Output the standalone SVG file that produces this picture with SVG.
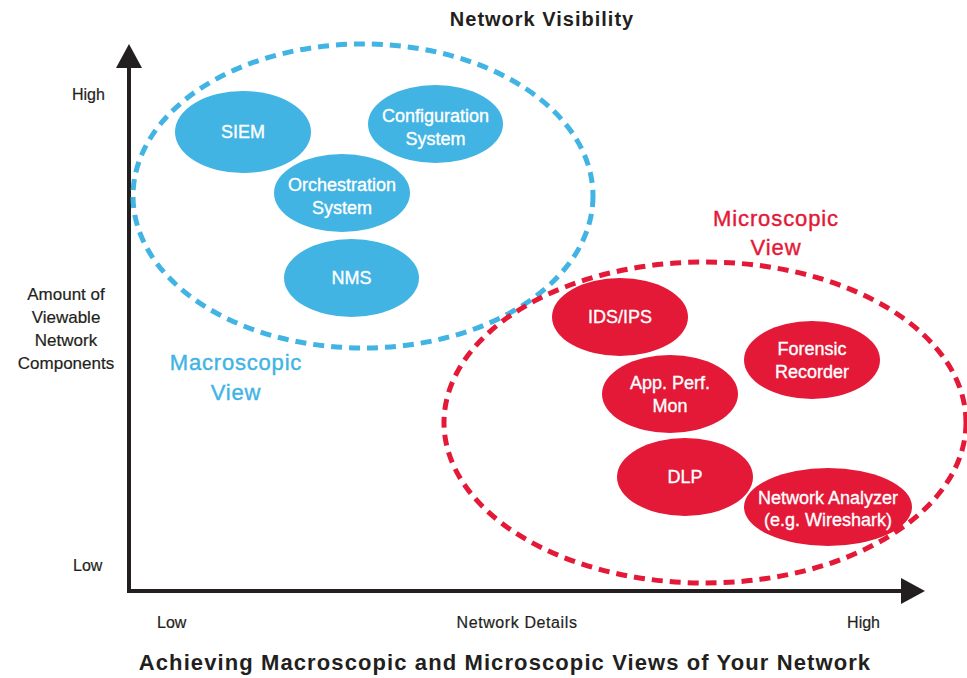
<svg xmlns="http://www.w3.org/2000/svg" width="967" height="678" viewBox="0 0 967 678">
<style>
text{font-family:"Liberation Sans",Arial,sans-serif;}
.nb{fill:#41b4e4;}
.nr{fill:#e31937;}
.nt{fill:#fff;font-size:18px;text-anchor:middle;stroke:#fff;stroke-width:0.35;}
.ax{fill:#231f20;font-size:16px;stroke:#231f20;stroke-width:0.2;}
.axc{fill:#231f20;font-size:17px;text-anchor:middle;stroke:#231f20;stroke-width:0.2;}
.ttl{fill:#231f20;font-weight:bold;text-anchor:middle;}
.grp{fill:none;stroke-width:5;stroke-dasharray:11 7;}
</style>
<rect width="967" height="678" fill="#fff"/>
<g id="axes">
<line x1="129" y1="66" x2="129" y2="593" stroke="#231f20" stroke-width="4"/>
<polygon points="116,68 142,68 129,44" fill="#231f20"/>
<line x1="127" y1="591" x2="903" y2="591" stroke="#231f20" stroke-width="4"/>
<polygon points="901,578 901,604 925,591" fill="#231f20"/>
</g>
<g id="macroscopic-group">
<ellipse cx="363" cy="196" rx="230" ry="152" class="grp" stroke="#41b4e4"/>
<text x="236" y="370" font-size="22" letter-spacing="0.8" fill="#41b4e4" text-anchor="middle" stroke="#41b4e4" stroke-width="0.4">Macroscopic</text>
<text x="236" y="400" font-size="22" letter-spacing="0.8" fill="#41b4e4" text-anchor="middle" stroke="#41b4e4" stroke-width="0.4">View</text>
</g>
<g id="microscopic-group">
<ellipse cx="705" cy="422.5" rx="261" ry="160.5" class="grp" stroke="#e31937"/>
<text x="776" y="226" font-size="22" letter-spacing="0.9" fill="#e31937" text-anchor="middle" stroke="#e31937" stroke-width="0.4">Microscopic</text>
<text x="776" y="255" font-size="22" letter-spacing="0.9" fill="#e31937" text-anchor="middle" stroke="#e31937" stroke-width="0.4">View</text>
</g>
<g id="siem"><ellipse cx="243" cy="132" rx="68" ry="41" class="nb"/><text x="243" y="138" class="nt">SIEM</text></g>
<g id="configuration-system"><ellipse cx="435.5" cy="124" rx="67.5" ry="39" class="nb"/><text x="435.5" y="122" class="nt">Configuration</text><text x="435.5" y="145" class="nt">System</text></g>
<g id="orchestration-system"><ellipse cx="342" cy="193" rx="68" ry="39" class="nb"/><text x="342" y="191" class="nt">Orchestration</text><text x="342" y="214" class="nt">System</text></g>
<g id="nms"><ellipse cx="351.5" cy="278" rx="67.5" ry="39" class="nb"/><text x="351.5" y="284" class="nt">NMS</text></g>
<g id="ids-ips"><ellipse cx="620" cy="317" rx="68" ry="39" class="nr"/><text x="620" y="323" class="nt">IDS/IPS</text></g>
<g id="forensic-recorder"><ellipse cx="812" cy="360" rx="68" ry="39" class="nr"/><text x="812" y="355" class="nt">Forensic</text><text x="812" y="378" class="nt">Recorder</text></g>
<g id="app-perf-mon"><ellipse cx="670" cy="394" rx="68" ry="39" class="nr"/><text x="670" y="389" class="nt">App. Perf.</text><text x="670" y="412" class="nt">Mon</text></g>
<g id="dlp"><ellipse cx="685" cy="477" rx="68" ry="39" class="nr"/><text x="685" y="483" class="nt">DLP</text></g>
<g id="network-analyzer"><ellipse cx="828" cy="507" rx="84" ry="39" class="nr"/><text x="828" y="504" class="nt">Network Analyzer</text><text x="828" y="526" class="nt">(e.g. Wireshark)</text></g>
<g id="labels">
<text x="542" y="26" class="ttl" font-size="20" letter-spacing="1">Network Visibility</text>
<text x="72" y="100" class="ax">High</text>
<text x="66" y="300" class="axc">Amount of</text>
<text x="66" y="323" class="axc">Viewable</text>
<text x="66" y="346" class="axc">Network</text>
<text x="66" y="369" class="axc">Components</text>
<text x="73" y="571" class="ax">Low</text>
<text x="157" y="628" class="ax">Low</text>
<text x="517" y="628" class="ax" font-size="17" letter-spacing="0.6" text-anchor="middle">Network Details</text>
<text x="880" y="628" class="ax" text-anchor="end">High</text>
<text x="505" y="670" class="ttl" font-size="22" letter-spacing="1.1">Achieving Macroscopic and Microscopic Views of Your Network</text>
</g>
</svg>
